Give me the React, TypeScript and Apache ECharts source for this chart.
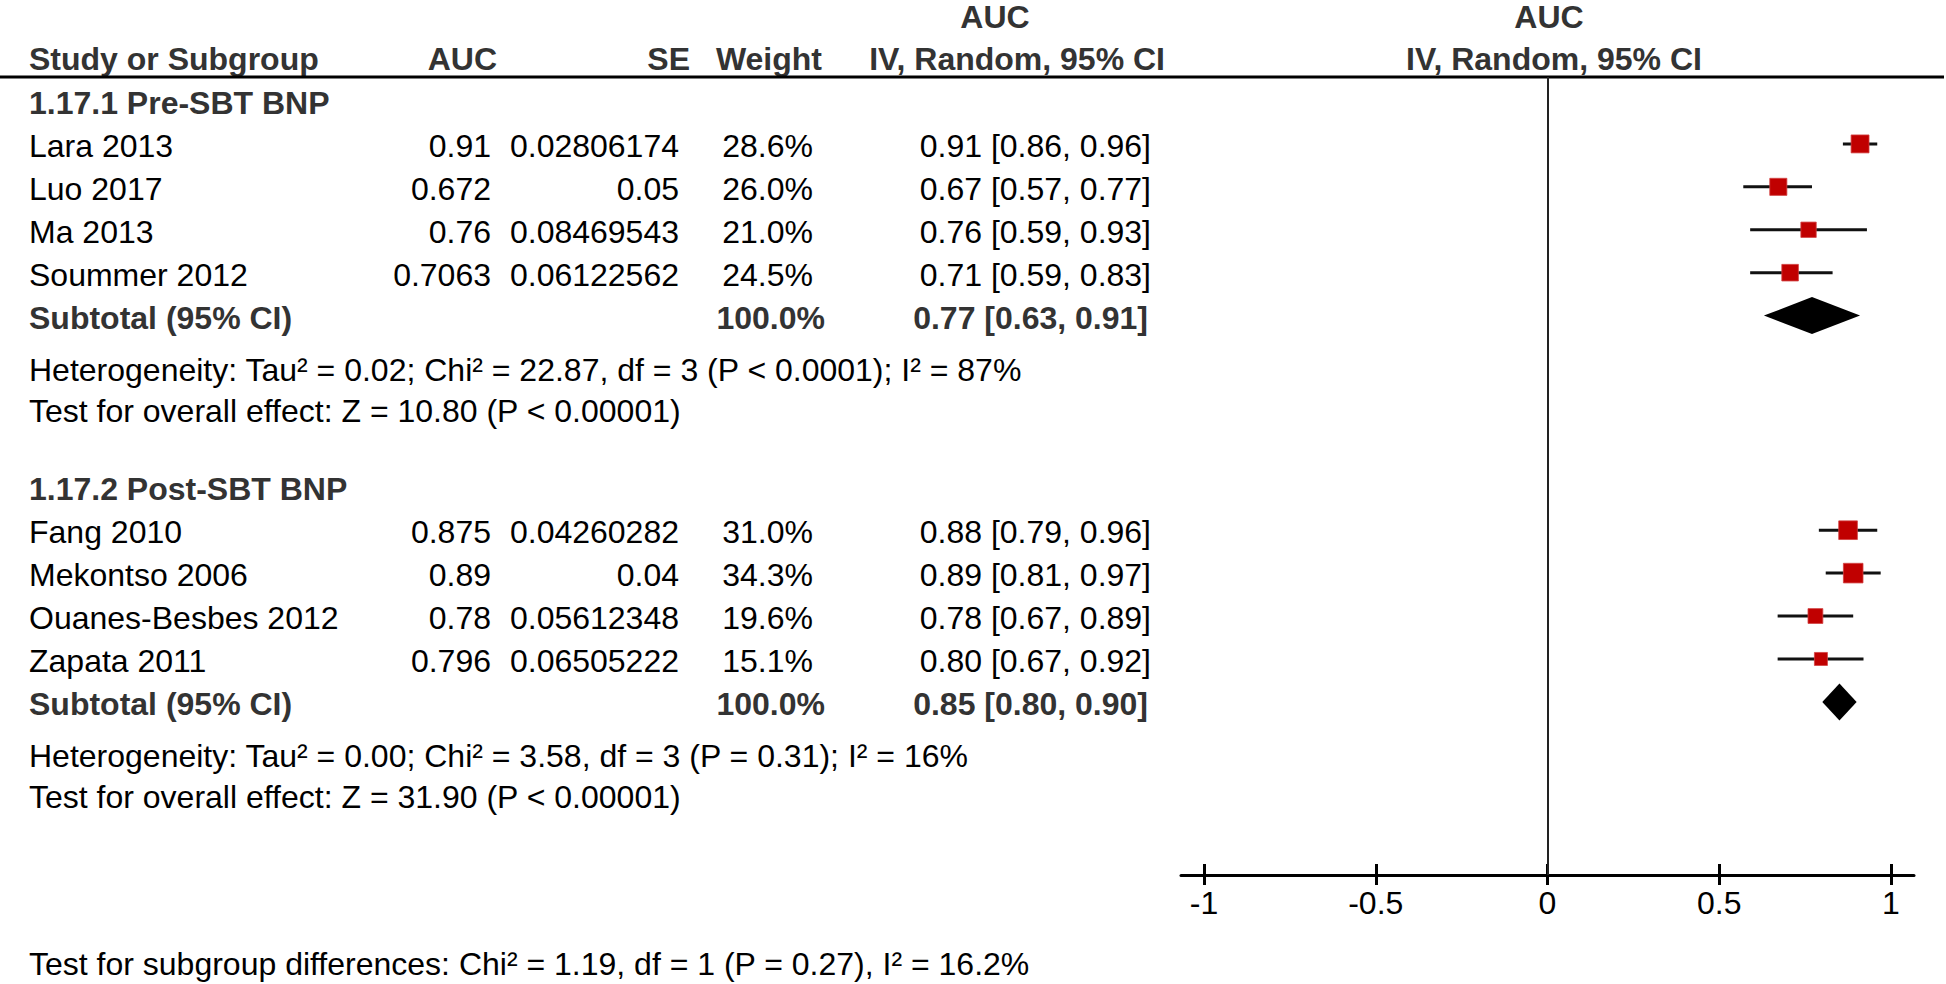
import React, { useEffect, useRef } from "react";
import * as echarts from "echarts";

const FONT = "'Liberation Sans', Arial, Helvetica, sans-serif";

// ---------- data ----------
const columnHeaders = ["Study or Subgroup", "AUC", "SE", "Weight", "IV, Random, 95% CI"];
const effectTitle = "AUC";
const groupLabels = ["1.17.1 Pre-SBT BNP", "1.17.2 Post-SBT BNP"];

const group1Studies = ["Lara 2013", "Luo 2017", "Ma 2013", "Soummer 2012"];
const group1Auc = [0.91, 0.672, 0.76, 0.7063];
const group1Se = [0.02806174, 0.05, 0.08469543, 0.06122562];
const group1Weight = [28.6, 26.0, 21.0, 24.5];
const group1Lo = [0.86, 0.57, 0.59, 0.59];
const group1Hi = [0.96, 0.77, 0.93, 0.83];

const group2Studies = ["Fang 2010", "Mekontso 2006", "Ouanes-Besbes 2012", "Zapata 2011"];
const group2Auc = [0.875, 0.89, 0.78, 0.796];
const group2Se = [0.04260282, 0.04, 0.05612348, 0.06505222];
const group2Weight = [31.0, 34.3, 19.6, 15.1];
const group2Lo = [0.79, 0.81, 0.67, 0.67];
const group2Hi = [0.96, 0.97, 0.89, 0.92];

const subtotalEst = [0.77, 0.85];
const subtotalLo = [0.63, 0.8];
const subtotalHi = [0.91, 0.9];
const subtotalWeight = [100.0, 100.0];

const heterogeneity = [
  "Heterogeneity: Tau² = 0.02; Chi² = 22.87, df = 3 (P < 0.0001); I² = 87%",
  "Heterogeneity: Tau² = 0.00; Chi² = 3.58, df = 3 (P = 0.31); I² = 16%",
];
const overallEffect = [
  "Test for overall effect: Z = 10.80 (P < 0.00001)",
  "Test for overall effect: Z = 31.90 (P < 0.00001)",
];
const subgroupTest = "Test for subgroup differences: Chi² = 1.19, df = 1 (P = 0.27), I² = 16.2%";
const axisTicks = [-1, -0.5, 0, 0.5, 1];

// ---------- layout ----------
const ROW0 = 101; // pixel of row 0
const ROWH = 42.92; // pixel height of a row
const TOP = 77;
const AXIS_Y = 875;
const kTop = (TOP - ROW0) / ROWH;
const kBot = (AXIS_Y - ROW0) / ROWH;
const GROUP_START = [0, 9];

export default function App() {
  const ref = useRef<HTMLDivElement>(null);

  useEffect(() => {
    const chart = echarts.init(ref.current!, null, { renderer: "svg" });

    const groups = [
      { studies: group1Studies, auc: group1Auc, se: group1Se, w: group1Weight, lo: group1Lo, hi: group1Hi },
      { studies: group2Studies, auc: group2Auc, se: group2Se, w: group2Weight, lo: group2Lo, hi: group2Hi },
    ];

    const studyData: number[][] = [];
    const diamondData: number[][] = [];
    groups.forEach((g, gi) => {
      g.studies.forEach((_, i) => {
        studyData.push([GROUP_START[gi] + 1 + i, g.auc[i], g.lo[i], g.hi[i], g.w[i]]);
      });
      diamondData.push([GROUP_START[gi] + 1 + g.studies.length, subtotalEst[gi], subtotalLo[gi], subtotalHi[gi]]);
    });

    const tickAxisBase = {
      type: "value",
      min: -1.067,
      max: 1.067,
      position: "bottom",
      splitLine: { show: false },
    };

    chart.setOption({
      animation: false,
      backgroundColor: "#fff",
      grid: { left: 1181, right: 32, top: TOP, bottom: 984 - AXIS_Y, outerBoundsMode: "none", containLabel: false },
      xAxis: [
        {
          ...tickAxisBase,
          axisLine: { show: true, onZero: false, lineStyle: { color: "#000", width: 3 } },
          axisTick: { show: true, inside: false, length: 10, customValues: axisTicks, lineStyle: { color: "#000", width: 3 } },
          axisLabel: {
            show: true,
            customValues: axisTicks,
            margin: 12,
            color: "#000",
            fontSize: 32,
            fontFamily: FONT,
          },
        },
        {
          ...tickAxisBase,
          axisLine: { show: false, onZero: false },
          axisTick: { show: true, inside: true, length: 11, customValues: axisTicks, lineStyle: { color: "#000", width: 3 } },
          axisLabel: { show: false },
        },
      ],
      yAxis: { type: "value", inverse: true, min: kTop, max: kBot, show: false },
      series: [
        {
          type: "custom",
          name: "studies",
          xAxisIndex: 0,
          yAxisIndex: 0,
          encode: { x: [1, 2, 3], y: 0 },
          data: studyData,
          renderItem: (_params: any, api: any) => {
            const k = api.value(0);
            const est = api.value(1);
            const lo = api.value(2);
            const hi = api.value(3);
            const w = api.value(4);
            const pLo = api.coord([lo, k]);
            const pHi = api.coord([hi, k]);
            const pE = api.coord([est, k]);
            const s = 3.35 * Math.sqrt(w);
            return {
              type: "group",
              children: [
                { type: "line", shape: { x1: pLo[0], y1: pLo[1], x2: pHi[0], y2: pHi[1] }, style: { stroke: "#111", lineWidth: 3 } },
                { type: "rect", shape: { x: pE[0] - s / 2, y: pE[1] - s / 2, width: s, height: s }, style: { fill: "#C00000", stroke: "#d24040", lineWidth: 0.8 } },
              ],
            };
          },
          markLine: {
            silent: true,
            symbol: "none",
            label: { show: false },
            lineStyle: { color: "#222", width: 2, type: "solid" },
            data: [{ xAxis: 0 }],
          },
        },
        {
          type: "custom",
          name: "subtotals",
          xAxisIndex: 0,
          yAxisIndex: 0,
          encode: { x: [1, 2, 3], y: 0 },
          data: diamondData,
          renderItem: (_params: any, api: any) => {
            const k = api.value(0);
            const pE = api.coord([api.value(1), k]);
            const pLo = api.coord([api.value(2), k]);
            const pHi = api.coord([api.value(3), k]);
            const h = 18.5;
            return {
              type: "polygon",
              shape: { points: [[pLo[0], pLo[1]], [pE[0], pE[1] - h], [pHi[0], pHi[1]], [pE[0], pE[1] + h]] },
              style: { fill: "#000" },
            };
          },
        },
      ],
    });

    const py = (k: number) => chart.convertToPixel({ yAxisIndex: 0 }, k) as unknown as number;

    const txt = (text: string, x: number, y: number, align: string, bold = false) => ({
      type: "text",
      x,
      y,
      silent: true,
      style: {
        text,
        fill: bold ? "#333" : "#000",
        font: `${bold ? "bold " : ""}32px ${FONT}`,
        textAlign: align,
        textVerticalAlign: "middle",
        align,
        verticalAlign: "middle",
      },
    });

    const X_LEFT = 29;
    const COL_AUC = 491, COL_AUC_H = 497;
    const COL_SE = 679, COL_SE_H = 690;
    const COL_W = 813, COL_W_H = 822, COL_W_B = 825;
    const COL_CI = 1151, COL_CI_H = 1165, COL_CI_B = 1148;
    const DY = 2;

    const g: any[] = [];
    // header
    g.push(txt(effectTitle, 995, py(-2) + DY, "center", true));
    g.push(txt(effectTitle, 1549, py(-2) + DY, "center", true));
    const hy = py(-1) + DY - 1;
    g.push(txt(columnHeaders[0], X_LEFT, hy, "left", true));
    g.push(txt(columnHeaders[1], COL_AUC_H, hy, "right", true));
    g.push(txt(columnHeaders[2], COL_SE_H, hy, "right", true));
    g.push(txt(columnHeaders[3], COL_W_H, hy, "right", true));
    g.push(txt(columnHeaders[4], COL_CI_H, hy, "right", true));
    g.push(txt(columnHeaders[4], 1554, hy, "center", true));
    g.push({
      type: "line",
      silent: true,
      shape: { x1: 0, y1: py(kTop), x2: 1944, y2: py(kTop) },
      style: { stroke: "#000", lineWidth: 3 },
    });

    groups.forEach((gr, gi) => {
      const s = GROUP_START[gi];
      g.push(txt(groupLabels[gi], X_LEFT, py(s) + DY, "left", true));
      gr.studies.forEach((name, i) => {
        const y = py(s + 1 + i) + DY;
        g.push(txt(name, X_LEFT, y, "left"));
        g.push(txt(String(gr.auc[i]), COL_AUC, y, "right"));
        g.push(txt(String(gr.se[i]), COL_SE, y, "right"));
        g.push(txt(gr.w[i].toFixed(1) + "%", COL_W, y, "right"));
        g.push(txt(`${gr.auc[i].toFixed(2)} [${gr.lo[i].toFixed(2)}, ${gr.hi[i].toFixed(2)}]`, COL_CI, y, "right"));
      });
      const ys = py(s + 1 + gr.studies.length) + DY;
      g.push(txt("Subtotal (95% CI)", X_LEFT, ys, "left", true));
      g.push(txt(subtotalWeight[gi].toFixed(1) + "%", COL_W_B, ys, "right", true));
      g.push(txt(`${subtotalEst[gi].toFixed(2)} [${subtotalLo[gi].toFixed(2)}, ${subtotalHi[gi].toFixed(2)}]`, COL_CI_B, ys, "right", true));
      g.push(txt(heterogeneity[gi], X_LEFT, py(s + 6.22) + DY, "left"));
      g.push(txt(overallEffect[gi], X_LEFT, py(s + 7.17) + DY, "left"));
    });
    g.push(txt(subgroupTest, X_LEFT, py(20.2) - 4, "left"));

    chart.setOption({ graphic: { elements: g } });

    return () => chart.dispose();
  }, []);

  return (
    <div
      ref={ref}
      style={{ position: "fixed", left: 0, top: 0, width: 1946, height: 984, background: "#fff" }}
    />
  );
}
